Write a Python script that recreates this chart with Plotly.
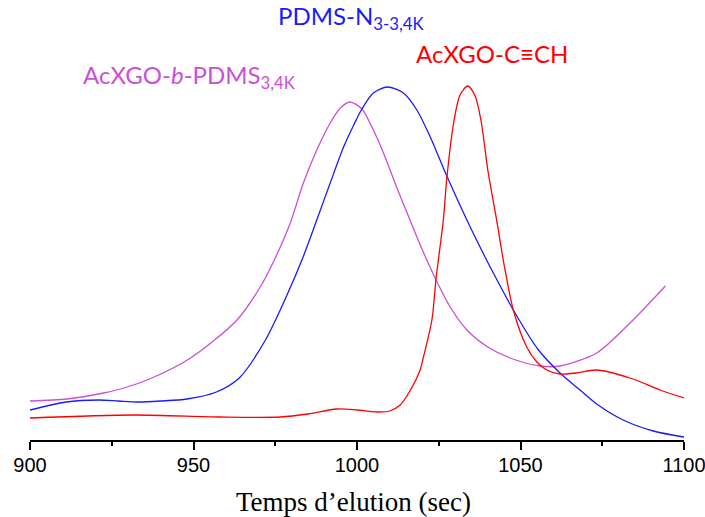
import plotly.graph_objects as go

# Elution time (s) and detector signal (arbitrary units)
pdms_x = [900, 911, 921, 927, 933, 940, 948, 957, 964, 972, 978.6, 983.4, 987.7, 991.8, 995.9,
          999, 1001.5, 1005, 1009.3, 1014.2, 1018.3, 1022.4, 1027.6, 1033.6, 1039, 1041.7,
          1047.8, 1055.5, 1062.1, 1068.2, 1073.3, 1081.4, 1090.6, 1100]
pdms_y = [30, 38, 40, 39, 38, 39, 41, 48, 62, 100, 145, 182, 220, 257, 293,
          315, 331, 347, 353, 347, 330, 303, 263, 220, 184, 167,
          130, 90, 67, 50, 36, 20, 9, 3]

block_x = [900, 911.3, 922.5, 927.6, 935.8, 949.1, 963.3, 970.4, 975, 979.6, 983.6, 987.7,
           991.8, 994.9, 997.9, 1001.5, 1005, 1008.1, 1012.1, 1016.2, 1020, 1023.9, 1028.5,
           1033.6, 1040, 1046.8, 1056, 1062.1, 1073.3, 1083.5, 1094.3]
block_y = [39, 41, 47, 51, 60, 82, 120, 153, 182, 217, 257, 290,
           317, 332, 338, 331, 310, 287, 253, 220, 190, 162, 133,
           110, 93, 82, 74, 74, 87, 117, 154]

alk_x = [900, 931.7, 958, 976.5, 985, 993.8, 1000, 1006.1, 1010, 1013.2, 1016, 1019.3, 1020.1,
         1022.9, 1024.2, 1026.4, 1027.5, 1029.7, 1031.5, 1033.8, 1036, 1037.9, 1040, 1042.7,
         1045, 1047.8, 1051.9, 1055, 1058, 1062.1, 1067, 1073.3, 1083.5, 1092.7, 1100]
alk_y = [22, 25, 23, 23, 26, 31, 30, 28, 29, 35, 48, 70, 80,
         120, 162, 220, 263, 320, 345, 354, 345, 320, 270, 220,
         175, 130, 93, 78, 70, 66, 67, 70, 62, 50, 42]

x_ticks = [900, 950, 1000, 1050, 1100]

BLUE = "#1a1aff"
RED = "#ff0000"
MAG = "#cc4fd6"

fig = go.Figure()
fig.add_trace(go.Scatter(x=block_x, y=block_y, mode="lines", line=dict(color=MAG, width=1.3, shape="spline", smoothing=0.8)))
fig.add_trace(go.Scatter(x=pdms_x, y=pdms_y, mode="lines", line=dict(color=BLUE, width=1.3, shape="spline", smoothing=0.8)))
fig.add_trace(go.Scatter(x=alk_x, y=alk_y, mode="lines", line=dict(color=RED, width=1.3, shape="spline", smoothing=0.8)))

lab_font = "Lato, 'Open Sans', sans-serif"
fig.add_annotation(x=975.3, y=423, xref="x", yref="y", xanchor="left", yanchor="middle",
                   text="PDMS-N<sub>3-3,4K</sub>", showarrow=False,
                   font=dict(family=lab_font, size=24, color=BLUE))
fig.add_annotation(x=1017.4, y=386.5, xref="x", yref="y", xanchor="left", yanchor="middle",
                   text="AcXGO-C≡CH", showarrow=False,
                   font=dict(family=lab_font, size=24, color=RED))
fig.add_annotation(x=915.5, y=364, xref="x", yref="y", xanchor="left", yanchor="middle",
                   text="AcXGO-<i>b</i>-PDMS<sub>3,4K</sub>", showarrow=False,
                   font=dict(family=lab_font, size=24, color=MAG))

fig.add_annotation(x=0.494, y=-0.144, xref="paper", yref="paper", xanchor="center", yanchor="middle",
                   text="Temps d\u2019elution (sec)", showarrow=False,
                   font=dict(family="Liberation Serif, Times New Roman", size=27, color="black"))

fig.update_layout(
    width=705, height=517,
    margin=dict(l=30, r=21, t=10, b=77, autoexpand=False),
    paper_bgcolor="white", plot_bgcolor="white",
    showlegend=False,
    xaxis=dict(
        range=[900, 1100], tickvals=x_ticks, ticktext=[str(v) for v in x_ticks],
        showgrid=False, zeroline=False, automargin=False,
        showline=True, linecolor="black", linewidth=1.5,
        ticks="outside", ticklen=8, tickwidth=1.5, tickcolor="black",
        ticklabelstandoff=-2, ticklabeloverflow="allow",
        minor=dict(ticks="outside", ticklen=4, tickwidth=1.5, tickcolor="black", dtick=25, tick0=900),
        tickfont=dict(family="Liberation Sans, Arial", size=20, color="black"),
    ),
    yaxis=dict(range=[0, 430], visible=False, automargin=False),
)

fig.write_html("out.html", config={"displayModeBar": False},
               post_script="document.body.style.margin='0';document.body.style.overflow='hidden';")
